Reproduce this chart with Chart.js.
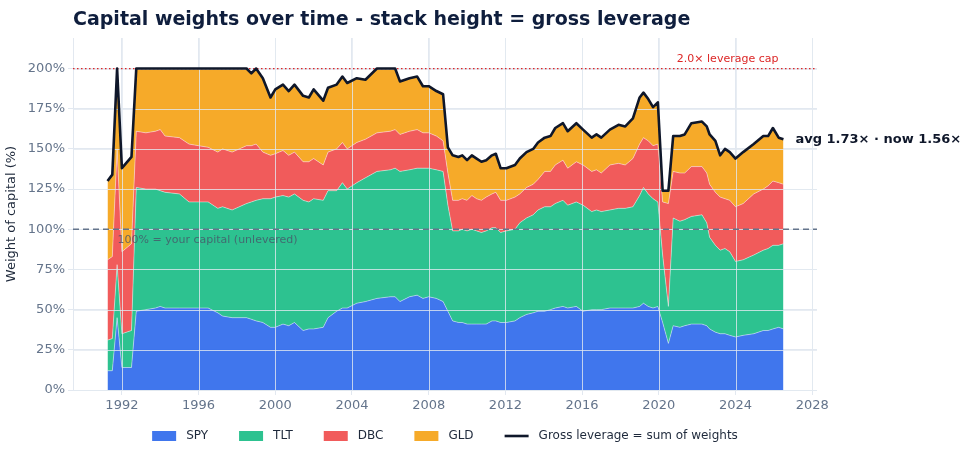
<!DOCTYPE html>
<html lang="en">
<head>
    <meta charset="UTF-8">
    <title>Capital weights over time</title>
    <style>
        html, body {
            margin: 0;
            padding: 0;
            background: #ffffff;
        }

        #wrap {
            width: 964px;
            height: 457px;
        }
    </style>
</head>
<body>

    <div id="wrap">
        <canvas id="weightsChart" width="964" height="457"></canvas>
    </div>

    <script src="https://cdn.jsdelivr.net/npm/chart.js"></script>

    <script>
        // quarter-ish sample dates (decimal years)
        const dates = [
            1991.25, 1991.5, 1991.75, 1992.0, 1992.5, 1992.75, 1993.25, 1993.75, 1994.0, 1994.25,
            1995.0, 1995.5, 1996.0, 1996.5, 1997.0, 1997.25, 1997.75, 1998.5, 1998.75, 1999.0,
            1999.35, 1999.75, 2000.0, 2000.4, 2000.7, 2001.0, 2001.45, 2001.75, 2002.0, 2002.5,
            2002.75, 2003.2, 2003.5, 2003.75, 2004.25, 2004.7, 2005.3, 2006.0, 2006.25, 2006.5,
            2007.0, 2007.4, 2007.7, 2008.0, 2008.4, 2008.75, 2009.0, 2009.25, 2009.55, 2009.75,
            2010.0, 2010.25, 2010.5, 2010.75, 2011.0, 2011.3, 2011.5, 2011.75, 2012.05, 2012.5,
            2012.75, 2013.1, 2013.45, 2013.7, 2014.05, 2014.35, 2014.6, 2015.0, 2015.25, 2015.7,
            2016.05, 2016.5, 2016.75, 2017.0, 2017.45, 2017.9, 2018.25, 2018.65, 2019.0, 2019.2,
            2019.45, 2019.7, 2019.95, 2020.2, 2020.5, 2020.75, 2021.1, 2021.35, 2021.7, 2022.25,
            2022.5, 2022.65, 2022.95, 2023.2, 2023.45, 2023.7, 2024.0, 2024.4, 2024.95, 2025.45,
            2025.7, 2025.95, 2026.25, 2026.5
        ];

        // weights in % of capital
        const spy = [
            12, 12, 45, 14, 14, 49, 50, 51, 52, 51,
            51, 51, 51, 51, 48, 46, 45, 45, 44, 43,
            42, 39, 39, 41, 40, 42, 37, 38, 38, 39,
            45, 49, 51, 51, 54, 55, 57, 58, 58, 55,
            58, 59, 57, 58, 57, 55, 49, 43, 42, 42,
            41, 41, 41, 41, 41, 43, 43, 42, 42, 43,
            45, 47, 48, 49, 49, 50, 51, 52, 51, 52,
            49, 50, 50, 50, 51, 51, 51, 51, 52, 54,
            52, 51, 52, 42, 29, 40, 39, 40, 41, 41,
            40, 38, 36, 35, 35, 34, 33, 34, 35, 37,
            37, 38, 39, 38
        ];
        const tlt = [
            19, 20, 33, 21, 23, 77, 75, 74, 72, 72,
            71, 66, 66, 66, 65, 68, 67, 71, 73, 75,
            77, 80, 81, 80, 80, 80, 81, 79, 81, 79,
            79, 75, 78, 74, 75, 77, 79, 79, 80, 81,
            79, 79, 81, 80, 80, 81, 66, 56, 57, 58,
            58, 59, 58, 57, 58, 58, 58, 56, 57, 57,
            59, 60, 61, 63, 65, 64, 65, 66, 64, 65,
            66, 61, 62, 61, 61, 62, 62, 63, 69, 72,
            70, 68, 65, 42, 23, 67, 66, 66, 67, 68,
            64, 57, 54, 52, 53, 52, 47, 47, 49, 50,
            51, 52, 51, 53
        ];
        const dbc = [
            50, 51, 72, 51, 54, 35, 35, 36, 38, 35,
            35, 36, 35, 34, 35, 36, 36, 36, 35, 35,
            29, 27, 27, 28, 26, 26, 24, 25, 25, 22,
            24, 26, 25, 25, 25, 24, 24, 24, 24, 23,
            24, 24, 22, 22, 21, 19, 20, 19, 19, 19,
            19, 21, 20, 20, 21, 21, 22, 20, 19, 20,
            18, 19, 19, 19, 22, 22, 24, 25, 23, 25,
            25, 25, 25, 24, 28, 28, 27, 30, 32, 31,
            33, 33, 36, 33, 64, 29, 30, 29, 31, 30,
            31, 33, 33, 33, 31, 32, 34, 35, 38, 38,
            39, 40, 39, 37
        ];
        const gld = [
            49, 51, 50, 52, 54, 39, 40, 39, 38, 42,
            43, 47, 48, 49, 52, 50, 52, 48, 45, 47,
            46, 36, 40, 41, 40, 42, 41, 40, 43, 40,
            40, 40, 41, 41, 40, 37, 40, 39, 38, 33,
            33, 33, 29, 29, 28, 29, 16, 28, 27, 27,
            25, 25, 25, 24, 23, 24, 24, 20, 20, 20,
            22, 22, 22, 23, 21, 22, 23, 23, 23, 24,
            22, 21, 22, 22, 22, 24, 24, 25, 29, 28,
            26, 24, 26, 7, 8, 22, 23, 24, 27, 28,
            29, 31, 32, 26, 31, 30, 30, 32, 31, 33,
            31, 33, 28, 28
        ];

        const yTicks = [0, 25, 50, 75, 100, 125, 150, 175, 200];
        const xTicks = [1992, 1996, 2000, 2004, 2008, 2012, 2016, 2020, 2024, 2028];

        const capLevel = 200;
        const baseLevel = 100;
        const capLabel = '2.0\u00d7 leverage cap';
        const baseLabel = '100% = your capital (unlevered)';
        const levLabel = 'avg 1.73\u00d7 \u00b7 now 1.56\u00d7';
        const chartTitle = 'Capital weights over time - stack height = gross leverage';

        const FONT = '"DejaVu Sans", sans-serif';
        const GRID = '#e2e8f0';

        const series = [
            { label: 'SPY', data: spy, color: 'rgba(37, 99, 235, 0.88)' },
            { label: 'TLT', data: tlt, color: 'rgba(16, 185, 129, 0.88)' },
            { label: 'DBC', data: dbc, color: 'rgba(239, 68, 68, 0.88)' },
            { label: 'GLD', data: gld, color: 'rgba(245, 158, 11, 0.88)' }
        ];

        // gross leverage = sum of the four weights
        const leverage = dates.map((d, i) => spy[i] + tlt[i] + dbc[i] + gld[i]);

        const toPoints = arr => dates.map((d, i) => ({ x: d, y: arr[i] }));

        const datasets = series.map((s, i) => ({
            label: s.label,
            data: toPoints(s.data),
            backgroundColor: s.color,
            borderColor: 'rgba(255, 255, 255, 0.55)',
            borderWidth: 0.8,
            pointRadius: 0,
            tension: 0,
            fill: i === 0 ? 'origin' : '-1',
            stack: 'weights'
        }));

        datasets.push({
            label: 'Gross leverage = sum of weights',
            data: toPoints(leverage),
            borderColor: '#0f172a',
            backgroundColor: '#0f172a',
            borderWidth: 2.6,
            borderJoinStyle: 'round',
            pointRadius: 0,
            tension: 0,
            fill: false,
            stack: 'lev',
            order: -1
        });

        // grid over the areas, reference lines, labels, title and legend
        const overlay = {
            id: 'overlay',
            beforeDatasetDraw(chart, args) {
                if (args.index !== 4) return;
                const { ctx, chartArea: a, scales: { x, y } } = chart;
                ctx.save();
                ctx.strokeStyle = 'rgba(226, 232, 240, 0.8)';
                ctx.lineWidth = 1;
                yTicks.forEach(v => {
                    const py = Math.round(y.getPixelForValue(v)) + 0.5;
                    ctx.beginPath();
                    ctx.moveTo(a.left, py);
                    ctx.lineTo(a.right, py);
                    ctx.stroke();
                });
                xTicks.forEach(v => {
                    const px = Math.round(x.getPixelForValue(v)) + 0.5;
                    ctx.beginPath();
                    ctx.moveTo(px, a.top);
                    ctx.lineTo(px, a.bottom);
                    ctx.stroke();
                });

                // 100% line
                let py = y.getPixelForValue(baseLevel);
                ctx.strokeStyle = '#64748b';
                ctx.lineWidth = 1.5;
                ctx.setLineDash([6, 4]);
                ctx.beginPath();
                ctx.moveTo(a.left, py);
                ctx.lineTo(a.right, py);
                ctx.stroke();

                // leverage cap
                py = y.getPixelForValue(capLevel);
                ctx.strokeStyle = '#dc2626';
                ctx.lineWidth = 1.3;
                ctx.setLineDash([1.5, 2.5]);
                ctx.beginPath();
                ctx.moveTo(a.left, py);
                ctx.lineTo(a.right, py);
                ctx.stroke();
                ctx.restore();
            },
            afterDraw(chart) {
                const { ctx, chartArea: a, scales: { x, y } } = chart;
                const last = dates.length - 1;
                ctx.save();
                ctx.textBaseline = 'middle';

                ctx.font = '11px ' + FONT;
                ctx.fillStyle = '#dc2626';
                ctx.textAlign = 'right';
                ctx.fillText(capLabel, x.getPixelForValue(dates[last]) - 5, y.getPixelForValue(capLevel) - 9);

                ctx.fillStyle = 'rgba(71, 85, 105, 0.8)';
                ctx.textAlign = 'left';
                ctx.fillText(baseLabel, x.getPixelForValue(dates[0]) + 10, y.getPixelForValue(baseLevel) + 11);

                ctx.font = 'bold 13px ' + FONT;
                ctx.fillStyle = '#0f172a';
                ctx.fillText(levLabel, x.getPixelForValue(dates[last]) + 12, y.getPixelForValue(leverage[last]));

                // title
                ctx.font = 'bold 19px ' + FONT;
                ctx.fillStyle = '#0f1e3d';
                ctx.textBaseline = 'alphabetic';
                ctx.fillText(chartTitle, a.left, 25);

                // legend
                ctx.font = '12px ' + FONT;
                ctx.textBaseline = 'middle';
                const items = datasets.map(d => ({ text: d.label, color: d.backgroundColor, line: d.stack === 'lev' }));
                const handle = 24, gap = 10, spacing = 31;
                let total = 0;
                items.forEach((it, i) => {
                    it.w = ctx.measureText(it.text).width;
                    total += handle + gap + it.w + (i ? spacing : 0);
                });
                let cx = (a.left + a.right) / 2 - total / 2;
                const ly = 436;
                items.forEach(it => {
                    if (it.line) {
                        ctx.strokeStyle = it.color;
                        ctx.lineWidth = 2.6;
                        ctx.beginPath();
                        ctx.moveTo(cx, ly);
                        ctx.lineTo(cx + handle, ly);
                        ctx.stroke();
                    } else {
                        ctx.fillStyle = it.color;
                        ctx.fillRect(cx, ly - 5, handle, 10);
                    }
                    ctx.fillStyle = '#1e293b';
                    ctx.fillText(it.text, cx + handle + gap, ly);
                    cx += handle + gap + it.w + spacing;
                });
                ctx.restore();
            }
        };

        const ctx = document.getElementById('weightsChart').getContext('2d');
        new Chart(ctx, {
            type: 'line',
            data: { datasets: datasets },
            options: {
                responsive: false,
                animation: false,
                layout: {
                    padding: { left: 0, right: 147, top: 38, bottom: 43 }
                },
                plugins: {
                    legend: { display: false },
                    tooltip: { enabled: false }
                },
                scales: {
                    x: {
                        type: 'linear',
                        min: 1989.45,
                        max: 2028.25,
                        afterFit(scale) { scale.height = 24; },
                        grid: { color: GRID, tickLength: 5, tickColor: GRID },
                        border: { display: false },
                        ticks: {
                            stepSize: 4,
                            maxTicksLimit: 20,
                            autoSkip: false,
                            includeBounds: false,
                            maxRotation: 0,
                            color: '#64748b',
                            font: { family: FONT, size: 13 },
                            callback: v => String(v)
                        }
                    },
                    y: {
                        type: 'linear',
                        stacked: true,
                        min: 0,
                        max: 219,
                        afterFit(scale) { scale.width = 73; },
                        grid: { color: GRID, tickLength: 5, tickColor: GRID },
                        border: { display: true, color: GRID },
                        title: {
                            display: true,
                            text: 'Weight of capital (%)',
                            color: '#1e293b',
                            font: { family: FONT, size: 13 }
                        },
                        ticks: {
                            stepSize: 25,
                            includeBounds: false,
                            color: '#64748b',
                            font: { family: FONT, size: 13 },
                            callback: v => v + '%'
                        }
                    }
                }
            },
            plugins: [overlay]
        });
    </script>
</body>
</html>
